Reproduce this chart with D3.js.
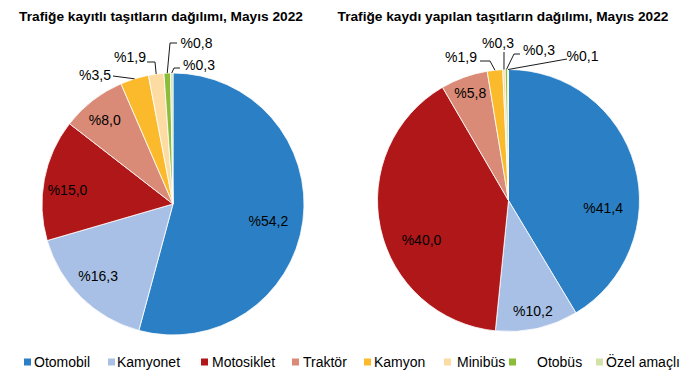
<!DOCTYPE html>
<html><head><meta charset="utf-8">
<script src="https://cdn.jsdelivr.net/npm/d3@7"></script>
<style>body{margin:0;background:#fff}svg{display:block}text{font-family:"Liberation Sans",Arial,sans-serif}</style>
</head><body>
<svg id="c" width="687" height="383"></svg>
<script>
const categories = ["Otomobil","Kamyonet","Motosiklet","Traktör","Kamyon","Minibüs","Otobüs","Özel amaçlı"];
const colors = ["#2B80C5","#A8C0E5","#AF1719","#D98B77","#FBBA2C","#FDDCA3","#8DBB3A","#D2E1A8"];
const titles = ["Trafiğe kayıtlı taşıtların dağılımı, Mayıs 2022","Trafiğe kaydı yapılan taşıtların dağılımı, Mayıs 2022"];
const registered = [54.2,16.3,15.0,8.0,3.5,1.9,0.8,0.3];
const newlyRegistered = [41.4,10.2,40.0,5.8,1.9,0.3,0.3,0.1];

// layout (positions only)
const pies = [
  {values: registered, cx:173, cy:204, r:131, titleX:161,
   inside:{0:[-2,4],1:[-6,2],2:[-9,4],3:[-8,-6]},
   outside:{4:{t:[-78,-129],s:[-60,-128],e:null},5:{t:[-43,-147],s:[-26,-142],e:[-18,-142]},
            6:{t:[23.5,-161],s:[4,-161],e:[-3,-161]},7:{t:[26,-139],s:[7,-136],e:[1,-136]}}},
  {values: newlyRegistered, cx:508.5, cy:200.5, r:131, titleX:503,
   inside:{0:[0,34],1:[3,15],2:[9,19],3:[-5,-15]},
   outside:{4:{t:[-47.5,-143.5],s:[-28.5,-139.5],e:[-18.5,-139.5]},5:{t:[-10.5,-157.5],s:[-4.5,-148.5],e:null},
            6:{t:[30.5,-150.5],s:[11.5,-146.5],e:[5.5,-146.5]},7:{t:[74,-144],s:[58.5,-141.5],e:null}}}
];
const legendX = [[24,34],[108,117],[201,212],[292,303],[364,374],[444,457],[509,537],[596,606]];

const svg = d3.select("#c");
const fmt = v => "%" + d3.format(".1f")(v).replace(".", ",");
const color = d3.scaleOrdinal().domain(categories).range(colors);

pies.forEach((p, pi) => {
  svg.append("text").attr("x", p.titleX).attr("y", 21).attr("text-anchor","middle")
    .attr("font-weight","bold").attr("font-size","13.7px").attr("fill","#000").text(titles[pi]);
  const data = p.values.map((v,i)=>({cat:categories[i], v, i}));
  const arcs = d3.pie().value(d=>d.v).sort(null)(data);
  const arc = d3.arc().innerRadius(0).outerRadius(p.r);
  const g = svg.append("g").attr("transform", `translate(${p.cx},${p.cy})`);
  g.selectAll("path").data(arcs).join("path")
    .attr("d", arc).attr("fill", d=>color(d.data.cat))
    .attr("stroke","#fff").attr("stroke-width",0.8);
  const labArc = d3.arc().innerRadius(p.r*0.75).outerRadius(p.r*0.75);
  arcs.forEach(a => {
    const i = a.data.i;
    if (p.inside[i]) {
      const c = labArc.centroid(a);
      const n = p.inside[i];
      g.append("text").attr("x", c[0]+n[0]).attr("y", c[1]+n[1]).attr("dy","0.35em")
        .attr("text-anchor","middle").attr("font-size","14px").attr("fill","#000").text(fmt(a.data.v));
    } else if (p.outside[i]) {
      const o = p.outside[i];
      const m = (a.startAngle + a.endAngle)/2;
      const edge = [p.r*Math.sin(m), -p.r*Math.cos(m)];
      const pts = [o.s];
      if (o.e) pts.push(o.e);
      pts.push(edge);
      g.append("path").attr("d", d3.line()(pts)).attr("fill","none").attr("stroke","#000").attr("stroke-width",0.9);
      g.append("text").attr("x", o.t[0]).attr("y", o.t[1]).attr("dy","0.35em")
        .attr("text-anchor","middle").attr("font-size","14px").attr("fill","#000").text(fmt(a.data.v));
    }
  });
});

const lg = svg.append("g");
categories.forEach((c,i) => {
  lg.append("rect").attr("x", legendX[i][0]).attr("y", 358.5).attr("width",7).attr("height",7).attr("fill", color(c));
  lg.append("text").attr("x", legendX[i][1]).attr("y", 362).attr("dy","0.35em").attr("font-size","14px").attr("fill","#000").text(c);
});
</script>
</body></html>
